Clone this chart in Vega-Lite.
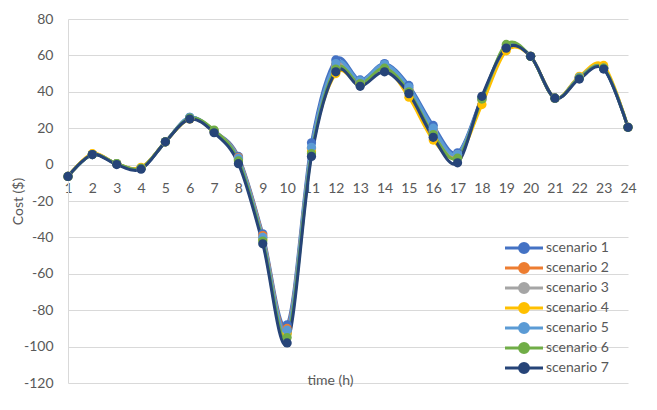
{
  "$schema": "https://vega.github.io/schema/vega-lite/v6.json",
  "autosize": "none",
  "width": 560,
  "height": 364,
  "padding": {"left": 68, "top": 19, "right": 29, "bottom": 27},
  "background": "white",
  "config": {
    "view": {"stroke": null},
    "font": "Lato",
    "axis": {"labelColor": "#595959", "titleColor": "#595959", "labelFontSize": 14, "titleFontSize": 14, "titleFontWeight": "normal", "labelFont": "Lato", "titleFont": "Lato"},
    "legend": {"labelFont": "Lato", "labelFontSize": 14, "labelColor": "#595959"}
  },
  "data": {"values": [
    {"h":1,"s":"scenario 1","c":-6.5},{"h":2,"s":"scenario 1","c":5.5},{"h":3,"s":"scenario 1","c":0.5},{"h":4,"s":"scenario 1","c":-2},{"h":5,"s":"scenario 1","c":12.5},{"h":6,"s":"scenario 1","c":26},{"h":7,"s":"scenario 1","c":18.5},{"h":8,"s":"scenario 1","c":4.5},{"h":9,"s":"scenario 1","c":-38},{"h":10,"s":"scenario 1","c":-88},{"h":11,"s":"scenario 1","c":12},{"h":12,"s":"scenario 1","c":57.5},{"h":13,"s":"scenario 1","c":46.5},{"h":14,"s":"scenario 1","c":55.5},{"h":15,"s":"scenario 1","c":43.5},{"h":16,"s":"scenario 1","c":21.5},{"h":17,"s":"scenario 1","c":6.5},{"h":18,"s":"scenario 1","c":37},{"h":19,"s":"scenario 1","c":64.5},{"h":20,"s":"scenario 1","c":59.5},{"h":21,"s":"scenario 1","c":36.5},{"h":22,"s":"scenario 1","c":48},{"h":23,"s":"scenario 1","c":53},{"h":24,"s":"scenario 1","c":20.5},
    {"h":1,"s":"scenario 2","c":-6.5},{"h":2,"s":"scenario 2","c":5.8},{"h":3,"s":"scenario 2","c":0.5},{"h":4,"s":"scenario 2","c":-2},{"h":5,"s":"scenario 2","c":12.5},{"h":6,"s":"scenario 2","c":25.5},{"h":7,"s":"scenario 2","c":18},{"h":8,"s":"scenario 2","c":4},{"h":9,"s":"scenario 2","c":-39},{"h":10,"s":"scenario 2","c":-90},{"h":11,"s":"scenario 2","c":9},{"h":12,"s":"scenario 2","c":55},{"h":13,"s":"scenario 2","c":45.5},{"h":14,"s":"scenario 2","c":54},{"h":15,"s":"scenario 2","c":41.5},{"h":16,"s":"scenario 2","c":19},{"h":17,"s":"scenario 2","c":5},{"h":18,"s":"scenario 2","c":36},{"h":19,"s":"scenario 2","c":64},{"h":20,"s":"scenario 2","c":59.5},{"h":21,"s":"scenario 2","c":36.5},{"h":22,"s":"scenario 2","c":48},{"h":23,"s":"scenario 2","c":53.5},{"h":24,"s":"scenario 2","c":20.5},
    {"h":1,"s":"scenario 3","c":-6.5},{"h":2,"s":"scenario 3","c":5.5},{"h":3,"s":"scenario 3","c":0.5},{"h":4,"s":"scenario 3","c":-2},{"h":5,"s":"scenario 3","c":12.5},{"h":6,"s":"scenario 3","c":25.5},{"h":7,"s":"scenario 3","c":18.5},{"h":8,"s":"scenario 3","c":3},{"h":9,"s":"scenario 3","c":-40},{"h":10,"s":"scenario 3","c":-92},{"h":11,"s":"scenario 3","c":8},{"h":12,"s":"scenario 3","c":53.5},{"h":13,"s":"scenario 3","c":45},{"h":14,"s":"scenario 3","c":53.5},{"h":15,"s":"scenario 3","c":41},{"h":16,"s":"scenario 3","c":18},{"h":17,"s":"scenario 3","c":5.5},{"h":18,"s":"scenario 3","c":35.5},{"h":19,"s":"scenario 3","c":64.5},{"h":20,"s":"scenario 3","c":59.5},{"h":21,"s":"scenario 3","c":36.5},{"h":22,"s":"scenario 3","c":48},{"h":23,"s":"scenario 3","c":53.5},{"h":24,"s":"scenario 3","c":20.5},
    {"h":1,"s":"scenario 4","c":-6.5},{"h":2,"s":"scenario 4","c":6},{"h":3,"s":"scenario 4","c":0.5},{"h":4,"s":"scenario 4","c":-1.5},{"h":5,"s":"scenario 4","c":12.5},{"h":6,"s":"scenario 4","c":25},{"h":7,"s":"scenario 4","c":18.5},{"h":8,"s":"scenario 4","c":2.5},{"h":9,"s":"scenario 4","c":-41},{"h":10,"s":"scenario 4","c":-93},{"h":11,"s":"scenario 4","c":7},{"h":12,"s":"scenario 4","c":50},{"h":13,"s":"scenario 4","c":44.5},{"h":14,"s":"scenario 4","c":53},{"h":15,"s":"scenario 4","c":37},{"h":16,"s":"scenario 4","c":13.5},{"h":17,"s":"scenario 4","c":4},{"h":18,"s":"scenario 4","c":33},{"h":19,"s":"scenario 4","c":62.5},{"h":20,"s":"scenario 4","c":59.5},{"h":21,"s":"scenario 4","c":36.5},{"h":22,"s":"scenario 4","c":48.5},{"h":23,"s":"scenario 4","c":54.5},{"h":24,"s":"scenario 4","c":20.5},
    {"h":1,"s":"scenario 5","c":-6.5},{"h":2,"s":"scenario 5","c":5.5},{"h":3,"s":"scenario 5","c":0.5},{"h":4,"s":"scenario 5","c":-2},{"h":5,"s":"scenario 5","c":12.5},{"h":6,"s":"scenario 5","c":26},{"h":7,"s":"scenario 5","c":18},{"h":8,"s":"scenario 5","c":3.5},{"h":9,"s":"scenario 5","c":-40},{"h":10,"s":"scenario 5","c":-91},{"h":11,"s":"scenario 5","c":9.5},{"h":12,"s":"scenario 5","c":55.5},{"h":13,"s":"scenario 5","c":46},{"h":14,"s":"scenario 5","c":55},{"h":15,"s":"scenario 5","c":42.5},{"h":16,"s":"scenario 5","c":20},{"h":17,"s":"scenario 5","c":5.5},{"h":18,"s":"scenario 5","c":36.5},{"h":19,"s":"scenario 5","c":64.5},{"h":20,"s":"scenario 5","c":59.5},{"h":21,"s":"scenario 5","c":36.5},{"h":22,"s":"scenario 5","c":48},{"h":23,"s":"scenario 5","c":53},{"h":24,"s":"scenario 5","c":20.5},
    {"h":1,"s":"scenario 6","c":-6.5},{"h":2,"s":"scenario 6","c":5.5},{"h":3,"s":"scenario 6","c":0.5},{"h":4,"s":"scenario 6","c":-2},{"h":5,"s":"scenario 6","c":12.5},{"h":6,"s":"scenario 6","c":25.5},{"h":7,"s":"scenario 6","c":19},{"h":8,"s":"scenario 6","c":2},{"h":9,"s":"scenario 6","c":-42},{"h":10,"s":"scenario 6","c":-95},{"h":11,"s":"scenario 6","c":6},{"h":12,"s":"scenario 6","c":52.5},{"h":13,"s":"scenario 6","c":44.5},{"h":14,"s":"scenario 6","c":53},{"h":15,"s":"scenario 6","c":40},{"h":16,"s":"scenario 6","c":16.5},{"h":17,"s":"scenario 6","c":3.5},{"h":18,"s":"scenario 6","c":36},{"h":19,"s":"scenario 6","c":66},{"h":20,"s":"scenario 6","c":59.5},{"h":21,"s":"scenario 6","c":36.5},{"h":22,"s":"scenario 6","c":47.5},{"h":23,"s":"scenario 6","c":53},{"h":24,"s":"scenario 6","c":20.5},
    {"h":1,"s":"scenario 7","c":-6.5},{"h":2,"s":"scenario 7","c":5.5},{"h":3,"s":"scenario 7","c":0},{"h":4,"s":"scenario 7","c":-2.5},{"h":5,"s":"scenario 7","c":12.5},{"h":6,"s":"scenario 7","c":25},{"h":7,"s":"scenario 7","c":17.5},{"h":8,"s":"scenario 7","c":0.5},{"h":9,"s":"scenario 7","c":-43.5},{"h":10,"s":"scenario 7","c":-98},{"h":11,"s":"scenario 7","c":4.5},{"h":12,"s":"scenario 7","c":51},{"h":13,"s":"scenario 7","c":43},{"h":14,"s":"scenario 7","c":51},{"h":15,"s":"scenario 7","c":39},{"h":16,"s":"scenario 7","c":15},{"h":17,"s":"scenario 7","c":1},{"h":18,"s":"scenario 7","c":37.5},{"h":19,"s":"scenario 7","c":64},{"h":20,"s":"scenario 7","c":59.5},{"h":21,"s":"scenario 7","c":36.5},{"h":22,"s":"scenario 7","c":47},{"h":23,"s":"scenario 7","c":52.5},{"h":24,"s":"scenario 7","c":20.5}
  ]},
  "mark": {"type": "line", "interpolate": "cardinal", "strokeWidth": 3, "point": {"filled": true, "size": 85, "opacity": 1}},
  "encoding": {
    "x": {"field": "h", "type": "quantitative", "scale": {"domain": [1, 24], "nice": false, "zero": false},
      "axis": {"values": [1,2,3,4,5,6,7,8,9,10,11,12,13,14,15,16,17,18,19,20,21,22,23,24], "format": "d", "orient": "bottom", "offset": -218, "domain": false, "ticks": false, "grid": false, "labelPadding": 16, "labelFlush": false, "labelOverlap": false, "title": "time (h)", "titleX": 262, "titleY": 208, "titleBaseline": "top", "titleAnchor": "middle"}},
    "y": {"field": "c", "type": "quantitative", "scale": {"domain": [-120, 80], "nice": false, "zero": false},
      "axis": {"values": [-120,-100,-80,-60,-40,-20,0,20,40,60,80], "labelExpr": "datum.value + ''", "ticks": false, "domainColor": "#D9D9D9", "gridColor": "#D9D9D9", "labelPadding": 15, "title": "Cost ($)", "titleX": -50, "titleBaseline": "middle", "titleAnchor": "middle"}},
    "color": {"field": "s", "type": "nominal", "title": null,
      "scale": {"domain": ["scenario 1","scenario 2","scenario 3","scenario 4","scenario 5","scenario 6","scenario 7"], "range": ["#4472C4","#ED7D31","#A5A5A5","#FFC000","#5B9BD5","#70AD47","#264478"]},
      "legend": {"orient": "none", "legendX": 449, "legendY": 222, "symbolType": "M-3.8,0H3.8M-0.9,0A0.9,0.9,0,1,1,0.9,0A0.9,0.9,0,1,1,-0.9,0Z", "symbolSize": 100, "symbolStrokeWidth": 3, "labelOffset": 15, "rowPadding": -2, "padding": 0,
        "encode": {"symbols": {"update": {"fill": {"scale": "color", "field": "value"}, "opacity": {"value": 1}}}}}}
  }
}
